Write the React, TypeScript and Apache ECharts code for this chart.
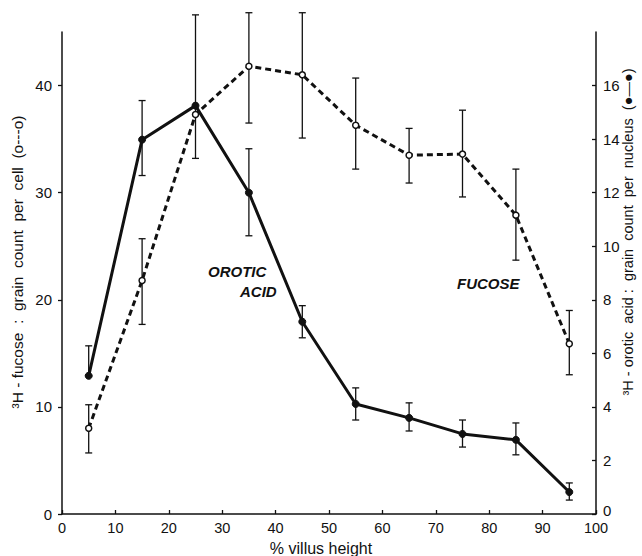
import React, { useEffect, useRef } from "react";
import * as echarts from "echarts";

const villusHeight = [5, 15, 25, 35, 45, 55, 65, 75, 85, 95];
const fucose = [8.0, 21.8, 37.3, 41.8, 41.0, 36.3, 33.5, 33.6, 27.9, 15.9];
const fucoseHigh = [10.2, 25.7, 46.6, 46.8, 46.8, 40.7, 36.0, 37.7, 32.2, 19.0];
const fucoseLow = [5.7, 17.7, 33.2, 36.5, 35.1, 32.2, 30.9, 29.6, 23.7, 13.0];
const orotic = [5.16, 13.98, 15.25, 12.0, 7.18, 4.11, 3.59, 2.99, 2.77, 0.82];
const oroticHigh = [6.28, 15.44, null, 13.64, 7.78, 4.71, 4.15, 3.51, 3.4, 1.16];
const oroticLow = [5.16, 12.64, null, 10.39, 6.58, 3.51, 3.1, 2.5, 2.21, 0.52];

const xTicks = [0, 10, 20, 30, 40, 50, 60, 70, 80, 90, 100];
const leftTicks = [0, 10, 20, 30, 40];
const rightTicks = [0, 2, 4, 6, 8, 10, 12, 14, 16];

const FONT = "Liberation Sans";

function errorRender(params: any, api: any) {
  const x = api.value(0);
  const lo = api.value(1);
  const hi = api.value(2);
  const pLo = api.coord([x, lo]);
  const pHi = api.coord([x, hi]);
  const w = 3.5;
  const style = { stroke: "#111", lineWidth: 1.3 };
  const children: any[] = [
    { type: "line", shape: { x1: pLo[0], y1: pLo[1], x2: pHi[0], y2: pHi[1] }, style },
    { type: "line", shape: { x1: pHi[0] - w, y1: pHi[1], x2: pHi[0] + w, y2: pHi[1] }, style },
  ];
  if (Math.abs(pLo[1] - pHi[1]) > 0) {
    children.push({ type: "line", shape: { x1: pLo[0] - w, y1: pLo[1], x2: pLo[0] + w, y2: pLo[1] }, style });
  }
  return { type: "group", children };
}

export default function App() {
  const ref = useRef<HTMLDivElement>(null);
  useEffect(() => {
    if (!ref.current) return;
    const chart = echarts.init(ref.current, undefined, { renderer: "svg" });
    const fucoseErr = villusHeight.map((x, i) => [x, fucoseLow[i], fucoseHigh[i]]);
    const oroticErr = villusHeight
      .map((x, i) => [x, oroticLow[i], oroticHigh[i]])
      .filter((d) => d[1] !== null && d[2] !== null);
    const axisLine = { show: true, lineStyle: { color: "#111", width: 1.5 } };
    chart.setOption({
      animation: false,
      backgroundColor: "#fff",
      grid: { left: 62, right: 46, top: 32, bottom: 42 },
      xAxis: {
        type: "value",
        min: 0,
        max: 100,
        interval: 10,
        axisLine,
        axisTick: { show: true, inside: true, length: 4, lineStyle: { color: "#111", width: 1.3 } },
        axisLabel: { color: "#111", fontFamily: FONT, fontSize: 14.5, margin: 6, lineHeight: 15, customValues: xTicks },
        splitLine: { show: false },
      },
      yAxis: [
        {
          type: "value",
          min: 0,
          max: 45,
          interval: 10,
          axisLine,
          axisTick: { show: true, length: 4, customValues: leftTicks, lineStyle: { color: "#111", width: 1.3 } },
          axisLabel: { color: "#111", fontFamily: FONT, fontSize: 15, margin: 10, customValues: leftTicks },
          splitLine: { show: false },
        },
        {
          type: "value",
          min: 0,
          max: 18,
          interval: 2,
          position: "right",
          axisLine,
          axisTick: { show: true, inside: true, length: 4, customValues: rightTicks, lineStyle: { color: "#111", width: 1.3 } },
          axisLabel: {
            color: "#111",
            fontFamily: FONT,
            fontSize: 15,
            margin: 7,
            customValues: rightTicks.filter((v) => v !== 0),
          },
          splitLine: { show: false },
        },
      ],
      series: [
        {
          type: "custom",
          name: "fucose err",
          yAxisIndex: 0,
          clip: false,
          renderItem: errorRender,
          data: fucoseErr,
          encode: { x: 0, y: [1, 2] },
          z: 1,
        },
        {
          type: "custom",
          name: "orotic err",
          yAxisIndex: 1,
          clip: false,
          renderItem: errorRender,
          data: oroticErr,
          encode: { x: 0, y: [1, 2] },
          z: 1,
        },
        {
          type: "line",
          name: "Fucose",
          yAxisIndex: 0,
          data: villusHeight.map((x, i) => [x, fucose[i]]),
          symbol: "circle",
          symbolSize: 6,
          itemStyle: { color: "#fff", borderColor: "#111", borderWidth: 1.5 },
          lineStyle: { color: "#111", width: 3, type: [6, 4] },
          z: 3,
        },
        {
          type: "line",
          name: "Orotic acid",
          yAxisIndex: 1,
          data: villusHeight.map((x, i) => [x, orotic[i]]),
          symbol: "circle",
          symbolSize: 7,
          itemStyle: { color: "#111", borderColor: "#111", borderWidth: 1 },
          lineStyle: { color: "#111", width: 3 },
          z: 4,
        },
      ],
      graphic: [
        {
          type: "text",
          x: 603,
          y: 510,
          style: {
            text: String(rightTicks[0]),
            font: `15px "${FONT}"`,
            lineHeight: 14,
            fill: "#111",
            align: "left",
            verticalAlign: "middle",
          },
        },
        {
          type: "text",
          left: 208,
          top: 264,
          style: { text: "OROTIC", font: `italic bold 15px "${FONT}"`, fill: "#111" },
        },
        {
          type: "text",
          left: 240,
          top: 284,
          style: { text: "ACID", font: `italic bold 15px "${FONT}"`, fill: "#111" },
        },
        {
          type: "text",
          left: 457,
          top: 276,
          style: { text: "FUCOSE", font: `italic bold 15px "${FONT}"`, fill: "#111" },
        },
        {
          type: "text",
          x: 17,
          y: 262,
          rotation: Math.PI / 2,
          style: {
            text: "³H - fucose  :  grain  count  per  cell  (o---o)",
            font: `15.5px "${FONT}"`,
            fill: "#111",
            align: "center",
            verticalAlign: "middle",
          },
        },
        {
          type: "text",
          x: 628,
          y: 232,
          rotation: Math.PI / 2,
          style: {
            text: "³H - orotic  acid :  grain  count  per  nucleus  (●—●)",
            font: `14.5px "${FONT}"`,
            fill: "#111",
            align: "center",
            verticalAlign: "middle",
          },
        },
        {
          type: "text",
          x: 321,
          y: 548,
          style: {
            text: "% villus height",
            font: `16px "${FONT}"`,
            lineHeight: 16,
            fill: "#111",
            align: "center",
            verticalAlign: "middle",
          },
        },
      ],
    });
    return () => chart.dispose();
  }, []);
  return (
    <div
      ref={ref}
      style={{ position: "fixed", left: 0, top: 0, width: 642, height: 556, background: "#fff" }}
    />
  );
}
